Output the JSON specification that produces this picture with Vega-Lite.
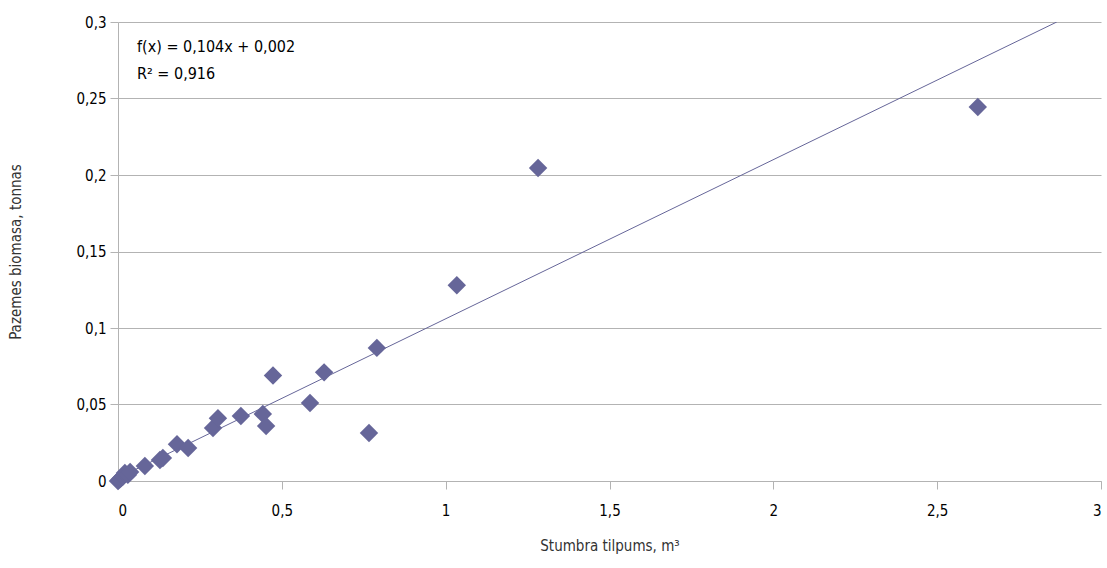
{
  "$schema": "https://vega.github.io/schema/vega-lite/v6.json",
  "width": 983,
  "height": 459,
  "autosize": {"type": "none"},
  "padding": {"left": 118, "top": 22, "right": 6, "bottom": 87},
  "background": "white",
  "config": {
    "view": {"stroke": null},
    "font": "'DejaVu Sans Condensed', 'Liberation Sans', sans-serif",
    "axis": {
      "labelFont": "'DejaVu Sans Condensed', 'Liberation Sans', sans-serif",
      "titleFont": "'DejaVu Sans Condensed', 'Liberation Sans', sans-serif",
      "labelFontSize": 15,
      "titleFontSize": 15,
      "titleFontWeight": "normal",
      "labelColor": "#000000",
      "titleColor": "#333333",
      "domainColor": "#b3b3b3",
      "tickColor": "#b3b3b3",
      "gridColor": "#b3b3b3",
      "tickSize": 8
    }
  },
  "datasets": {
    "points": [
      {"x": 0.0, "y": 0.0},
      {"x": 0.005, "y": 0.001},
      {"x": 0.01, "y": 0.002},
      {"x": 0.015, "y": 0.003},
      {"x": 0.021, "y": 0.0052},
      {"x": 0.03, "y": 0.004},
      {"x": 0.037, "y": 0.0059},
      {"x": 0.082, "y": 0.0098},
      {"x": 0.128, "y": 0.0137},
      {"x": 0.137, "y": 0.015},
      {"x": 0.18, "y": 0.024},
      {"x": 0.214, "y": 0.0216},
      {"x": 0.29, "y": 0.0346},
      {"x": 0.305, "y": 0.041},
      {"x": 0.375, "y": 0.0425},
      {"x": 0.442, "y": 0.0438},
      {"x": 0.452, "y": 0.036},
      {"x": 0.473, "y": 0.069},
      {"x": 0.586, "y": 0.051},
      {"x": 0.629, "y": 0.071},
      {"x": 0.766, "y": 0.0314},
      {"x": 0.79, "y": 0.087},
      {"x": 1.034, "y": 0.128},
      {"x": 1.282, "y": 0.2046},
      {"x": 2.624, "y": 0.2444}
    ],
    "trend": [
      {"x": 0.0, "y": 0.002},
      {"x": 2.865, "y": 0.3}
    ],
    "notes": [
      {"x": 0.058, "y": 0.2837, "label": "f(x) = 0,104x + 0,002"},
      {"x": 0.058, "y": 0.2662, "label": "R² = 0,916"}
    ]
  },
  "layer": [
    {
      "data": {"name": "trend"},
      "mark": {"type": "line", "color": "#666699", "strokeWidth": 1, "clip": true},
      "encoding": {
        "x": {
          "field": "x", "type": "quantitative",
          "scale": {"domain": [0, 3], "nice": false, "zero": false},
          "axis": {
            "title": "Stumbra tilpums, m³",
            "values": [0, 0.5, 1, 1.5, 2, 2.5, 3],
            "labelExpr": "replace(toString(datum.value), '.', ',')",
            "grid": false,
            "labelPadding": 14,
            "titlePadding": 20
          }
        },
        "y": {
          "field": "y", "type": "quantitative",
          "scale": {"domain": [0, 0.3], "nice": false, "zero": false},
          "axis": {
            "title": "Pazemes biomasa, tonnas",
            "values": [0, 0.05, 0.1, 0.15, 0.2, 0.25, 0.3],
            "labelExpr": "replace(toString(datum.value), '.', ',')",
            "grid": true,
            "labelPadding": 4,
            "titlePadding": 52
          }
        }
      }
    },
    {
      "data": {"name": "points"},
      "mark": {"type": "point", "shape": "diamond", "filled": true, "size": 340, "color": "#666699", "opacity": 1},
      "encoding": {
        "x": {"field": "x", "type": "quantitative"},
        "y": {"field": "y", "type": "quantitative"}
      }
    },
    {
      "data": {"name": "notes"},
      "mark": {"type": "text", "align": "left", "baseline": "middle", "fontSize": 16, "color": "#000000"},
      "encoding": {
        "x": {"field": "x", "type": "quantitative"},
        "y": {"field": "y", "type": "quantitative"},
        "text": {"field": "label"}
      }
    }
  ]
}
